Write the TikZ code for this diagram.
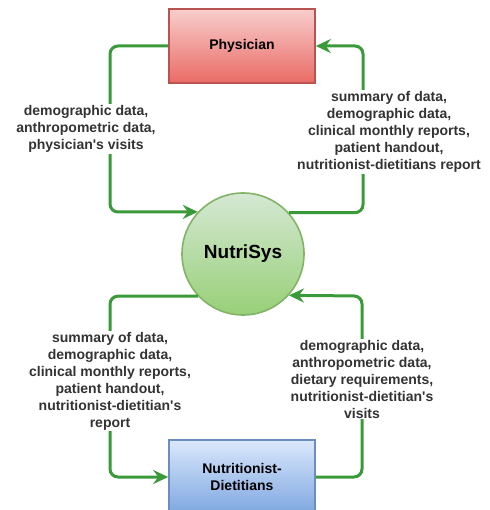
\documentclass[tikz,border=0pt]{standalone}
\usepackage{fontspec}
\setmainfont{Liberation Sans}
\usetikzlibrary{arrows.meta}
\definecolor{flowgreen}{HTML}{3A9A3A}
\definecolor{labelgray}{HTML}{333333}
\tikzset{
  flow/.style={draw=flowgreen,line width=3pt,rounded corners=8pt,
    -{Stealth[length=15pt,width=14pt,inset=5pt]}},
  actor/.style={minimum width=146pt,minimum height=74pt,line width=1.6pt,
    font=\fontsize{14}{17}\selectfont\bfseries,align=center,text=black},
  flowlabel/.style={fill=white,inner sep=1pt,align=center,text=labelgray,
    font=\fontsize{14}{17}\selectfont\bfseries}
}
\begin{document}
\begin{tikzpicture}[x=1pt,y=-1pt]
  \useasboundingbox (0,0) rectangle (489,510);
  % actors
  \node[actor,draw={rgb,255:red,184;green,84;blue,80},top color={rgb,255:red,248;green,206;blue,204},bottom color={rgb,255:red,234;green,107;blue,102}] (phys) at (242,46) {Physician};
  \node[actor,draw={rgb,255:red,108;green,142;blue,191},top color={rgb,255:red,218;green,232;blue,252},bottom color={rgb,255:red,126;green,166;blue,224}] (nd) at (242,477) {Nutritionist-\\Dietitians};
  \node[circle,minimum size=122pt,line width=1.6pt,draw={rgb,255:red,130;green,179;blue,102},top color={rgb,255:red,213;green,232;blue,212},bottom color={rgb,255:red,151;green,208;blue,119},font=\fontsize{19}{22}\selectfont\bfseries] (sys) at (243,254) {NutriSys};
  % corners of the connectors
  \coordinate (c1) at (110,212);
  \coordinate (c2) at (363,46);
  \coordinate (c3) at (110,477);
  \coordinate (c4) at (362,296);
  % connectors
  \draw[flow] (phys.west) -| (c1) -- (sys.137.2);
  \draw[flow] (sys.42.8) -| (c2) -- (phys.east);
  \draw[flow] (sys.-137.2) -| (c3) -- (nd.west);
  \draw[flow] (nd.east) -| (c4) -- (sys.-42.8);
  % labels
  \node[flowlabel] (l1) at (86,129) {demographic data,\\anthropometric data,\\physician\textquotesingle s visits};
  \node[flowlabel] (l2) at (389,132) {summary of data,\\demographic data,\\clinical monthly reports,\\patient handout,\\nutritionist-dietitians report};
  \node[flowlabel] (l3) at (110,381) {summary of data,\\demographic data,\\clinical monthly reports,\\patient handout,\\nutritionist-dietitian\textquotesingle s\\report};
  \node[flowlabel] (l4) at (362,379) {demographic data,\\anthropometric data,\\dietary requirements,\\nutritionist-dietitian\textquotesingle s\\visits};
\end{tikzpicture}
\end{document}
